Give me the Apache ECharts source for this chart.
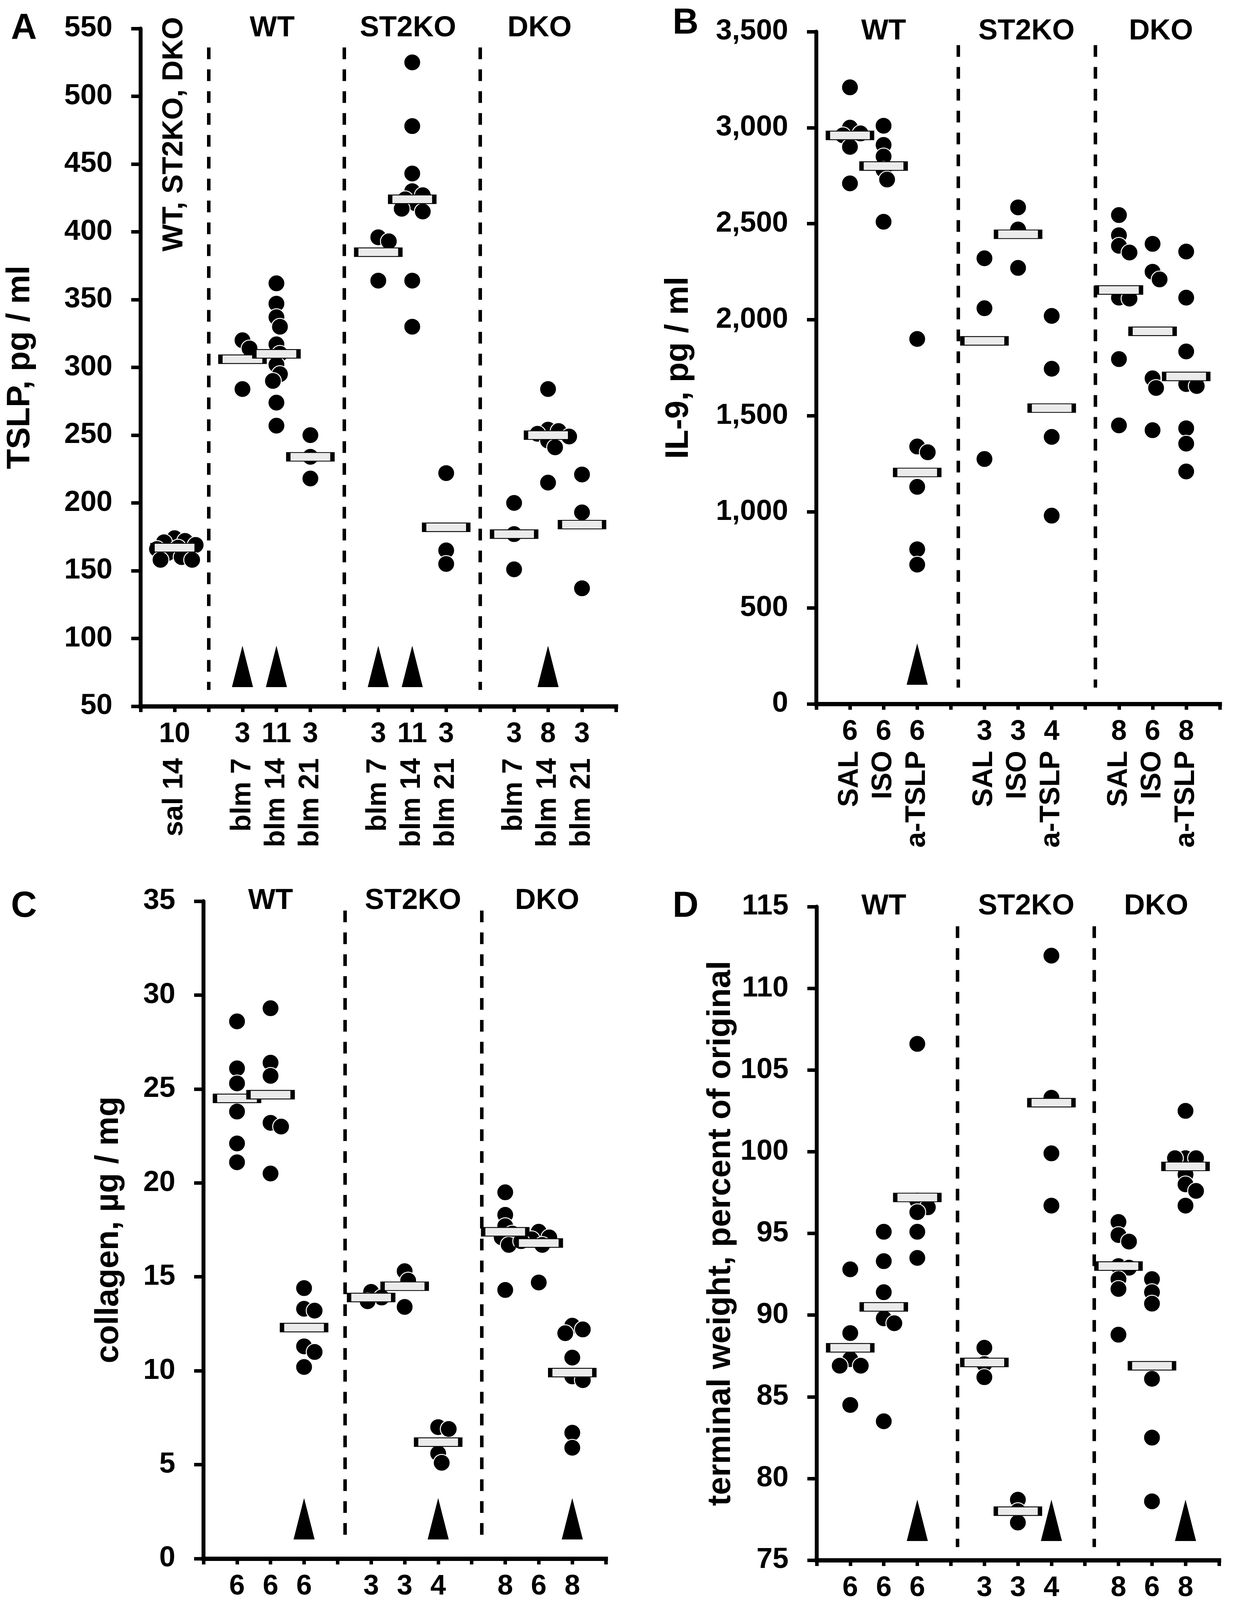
<!DOCTYPE html>
<html>
<head>
<meta charset="utf-8">
<script src="https://cdn.jsdelivr.net/npm/echarts@6/dist/echarts.min.js"></script>
<style>
  html, body { margin: 0; padding: 0; background: #fff; }
  #main { width: 3167px; height: 4393px; }
</style>
</head>
<body>
<div id="main"></div>
<script>
// ---- data ----
// A: TSLP
var namesA = ['sal 14', 'blm 7', 'blm 14', 'blm 21', 'blm 7', 'blm 14', 'blm 21', 'blm 7', 'blm 14', 'blm 21'];
var countsA = [10, 3, 11, 3, 3, 11, 3, 3, 8, 3];
var valuesA = [
  [174, 172, 171, 169, 167, 166, 163, 160, 158, 158],
  [320, 314, 284],
  [362, 347, 337, 330, 317, 310, 302, 295, 290, 274, 257],
  [250, 234, 218],
  [396, 393, 364],
  [525, 478, 443, 430, 427, 424, 421, 417, 415, 364, 330],
  [222, 165, 155],
  [200, 177, 151],
  [284, 254, 253, 251, 249, 246, 241, 215],
  [221, 193, 137]
];
var meansA = [167, 306, 310, 234, 385, 424, 182, 177, 250, 184];
var arrowsA = [1, 2, 4, 5, 8];

// shared group names for B, C, D
var namesBCD = ['SAL', 'ISO', 'a-TSLP', 'SAL', 'ISO', 'a-TSLP', 'SAL', 'ISO', 'a-TSLP'];
var countsBCD = [6, 6, 6, 3, 3, 4, 8, 6, 8];

// B: IL-9
var valuesB = [
  [3210, 3000, 2970, 2960, 2900, 2710],
  [3010, 2910, 2850, 2780, 2730, 2510],
  [1900, 1340, 1310, 1130, 805, 725],
  [2320, 2060, 1275],
  [2585, 2470, 2270],
  [2020, 1745, 1390, 980],
  [2545, 2440, 2385, 2350, 2115, 2110, 1795, 1450],
  [2395, 2250, 2210, 1695, 1645, 1425],
  [2355, 2115, 1835, 1665, 1655, 1435, 1355, 1210]
];
var meansB = [2960, 2800, 1205, 1890, 2445, 1540, 2155, 1940, 1705];
var arrowsB = [2];

// C: collagen
var valuesC = [
  [28.6, 26.1, 25.3, 23.8, 22.1, 21.1],
  [29.3, 26.4, 25.7, 23.2, 23.0, 20.5],
  [14.4, 13.3, 13.2, 11.3, 11.0, 10.2],
  [14.2, 13.9, 13.7],
  [15.3, 14.8, 13.4],
  [7.0, 6.9, 5.6, 5.1],
  [19.5, 18.3, 17.7, 17.3, 17.1, 16.9, 16.7, 14.3],
  [17.4, 17.1, 17.0, 16.9, 16.7, 14.7],
  [12.4, 12.2, 12.0, 10.7, 9.7, 9.5, 6.7, 5.9]
];
var meansC = [24.5, 24.7, 12.3, 13.9, 14.5, 6.2, 17.4, 16.8, 9.9];
var arrowsC = [2, 5, 8];

// D: terminal weight
var valuesD = [
  [92.8, 88.9, 87.3, 86.9, 86.9, 84.5],
  [95.1, 93.3, 91.4, 89.8, 89.5, 83.5],
  [106.6, 97.0, 96.6, 96.3, 95.1, 93.5],
  [88.0, 87.0, 86.2],
  [78.7, 78.0, 77.3],
  [112.0, 103.3, 99.9, 96.7],
  [95.7, 94.9, 94.5, 93.0, 92.9, 92.2, 91.6, 88.8],
  [92.2, 91.4, 90.7, 86.1, 82.5, 78.6],
  [102.5, 99.6, 99.6, 99.6, 98.6, 98.0, 97.6, 96.7]
];
var meansD = [88.0, 90.5, 97.2, 87.1, 78.0, 103.0, 93.0, 86.9, 99.1];
var arrowsD = [2, 5, 8];

var headers = ['WT', 'ST2KO', 'DKO'];

// ---- layout ----
var FONT = 'Liberation Sans, Arial, sans-serif';
var DOT = 43, STEP = 9, THR = 25;

var panels = [
  { letter: 'A', lx: 28, ly: 28,
    grid: { left: 360, top: 73, width: 1217, height: 1735 },
    xMax: 14, pos: [1, 3, 4, 5, 7, 8, 9, 11, 12, 13],
    names: namesA, counts: countsA, values: valuesA, means: meansA, arrows: arrowsA,
    yMin: 50, yMax: 550, yInt: 50, yName: 'TSLP, pg / ml', nameGap: 266,
    headPos: [3.875, 7.875, 11.75],
    dividers: [2, 6, 10], divTop: 536, divBot: 62, nameMargin: 133 },
  { letter: 'B', lx: 1722, ly: 15,
    grid: { left: 2090, top: 81, width: 1033, height: 1721 },
    xMax: 12, pos: [1, 2, 3, 5, 6, 7, 9, 10, 11],
    names: namesBCD, counts: countsBCD, values: valuesB, means: meansB, arrows: arrowsB,
    yMin: 0, yMax: 3500, yInt: 500, yName: 'IL-9, pg / ml', nameGap: 310,
    headPos: [2, 6.25, 10.25],
    dividers: [4.22, 8.3], divTop: 3430, divBot: 85, nameMargin: 120 },
  { letter: 'C', lx: 28, ly: 2276,
    grid: { left: 521, top: 2307, width: 1030, height: 1683 },
    xMax: 12, pos: [1, 2, 3, 5, 6, 7, 9, 10, 11],
    names: namesBCD, counts: countsBCD, values: valuesC, means: meansC, arrows: arrowsC,
    yMin: 0, yMax: 35, yInt: 5, yName: 'collagen, µg / mg', nameGap: 200,
    headPos: [2, 6.25, 10.25],
    dividers: [4.22, 8.3], divTop: 34.5, divBot: 0.8, nameMargin: 123 },
  { letter: 'D', lx: 1722, ly: 2276,
    grid: { left: 2091, top: 2321, width: 1030, height: 1673 },
    xMax: 12, pos: [1, 2, 3, 5, 6, 7, 9, 10, 11],
    names: namesBCD, counts: countsBCD, values: valuesD, means: meansD, arrows: arrowsD,
    yMin: 75, yMax: 115, yInt: 5, yName: 'terminal weight, percent of original', nameGap: 203,
    headPos: [2, 6.25, 10.125],
    dividers: [4.2, 8.27], divTop: 113.8, divBot: 75.8, nameMargin: 119 }
];

// simple beeswarm: nudge overlapping dots sideways (pixel space)
function dodge(vals, p) {
  var placed = [];
  var unitPx = p.grid.width / p.xMax;
  var ks = [0, 1, -1, 2, -2, 3, -3, 4, -4, 5, -5, 6, -6, 7, -7, 8, -8];
  return vals.map(function (v) {
    var py = (v - p.yMin) / (p.yMax - p.yMin) * p.grid.height;
    var ox = 0;
    for (var i = 0; i < ks.length; i++) {
      var cx = ks[i] * STEP;
      var ok = placed.every(function (q) {
        return (q.x - cx) * (q.x - cx) + (q.y - py) * (q.y - py) >= THR * THR;
      });
      if (ok) { ox = cx; break; }
    }
    placed.push({ x: ox, y: py });
    return ox / unitPx;
  });
}

function findPos(list, v) {
  for (var i = 0; i < list.length; i++) if (Math.abs(list[i] - v) < 0.01) return i;
  return -1;
}

var option = {
  backgroundColor: '#fff',
  animation: false,
  title: [], grid: [], xAxis: [], yAxis: [], series: []
};

var boldText = { fontFamily: FONT, fontWeight: 'bold', color: '#000' };

panels.forEach(function (p, i) {
  option.title.push({
    text: p.letter, left: p.lx, top: p.ly, padding: 0,
    textStyle: { fontFamily: FONT, fontWeight: 'bold', fontSize: 92, lineHeight: 92, color: '#000' }
  });
  option.grid.push(p.grid);

  // n under the axis
  option.xAxis.push({
    type: 'value', gridIndex: i, position: 'bottom', min: 0, max: p.xMax, interval: 1,
    splitLine: { show: false },
    axisLine: { show: true, onZero: false, lineStyle: { color: '#000', width: 11, cap: 'square' } },
    axisTick: { show: true, length: 15, lineStyle: { color: '#000', width: 9 } },
    axisLabel: Object.assign({
      fontSize: 72, margin: 36,
      formatter: function (v) { var k = findPos(p.pos, v); return k < 0 ? '' : String(p.counts[k]); }
    }, boldText)
  });
  // rotated group names
  option.xAxis.push({
    type: 'value', gridIndex: i, position: 'bottom', min: 0, max: p.xMax, interval: 1,
    splitLine: { show: false }, axisLine: { show: false }, axisTick: { show: false },
    axisLabel: Object.assign({
      fontSize: 72, margin: p.nameMargin, rotate: 90,
      formatter: function (v) { var k = findPos(p.pos, v); return k < 0 ? '' : p.names[k]; }
    }, boldText)
  });
  // strain headers at the top
  option.xAxis.push({
    type: 'value', gridIndex: i, position: 'top', min: 0, max: p.xMax, interval: 0.125,
    splitLine: { show: false }, axisLine: { show: false }, axisTick: { show: false },
    axisLabel: Object.assign({
      fontSize: 74, margin: 0, verticalAlign: 'middle',
      formatter: function (v) { var k = findPos(p.headPos, v); return k < 0 ? '' : headers[k]; }
    }, boldText)
  });

  option.yAxis.push({
    type: 'value', gridIndex: i, min: p.yMin, max: p.yMax, interval: p.yInt,
    splitLine: { show: false },
    axisLine: { show: true, onZero: false, lineStyle: { color: '#000', width: 10 } },
    axisTick: { show: true, length: 24, lineStyle: { color: '#000', width: 9 } },
    axisLabel: Object.assign({
      fontSize: 74, margin: 72,
      formatter: function (v) { return v.toLocaleString('en-US'); }
    }, boldText),
    name: p.yName, nameLocation: 'middle', nameGap: p.nameGap,
    nameTextStyle: Object.assign({ fontSize: 84 }, boldText)
  });

  var dots = [];
  p.values.forEach(function (vals, g) {
    var offs = dodge(vals, p);
    vals.forEach(function (v, j) { dots.push([p.pos[g] + offs[j], v]); });
  });

  var dotSeries = {
    type: 'scatter', xAxisIndex: 3 * i, yAxisIndex: i, z: 2, clip: false,
    symbolSize: DOT,
    itemStyle: { color: '#000', borderColor: '#fff', borderWidth: 2.5, opacity: 1 },
    data: dots,
    markLine: {
      silent: true, symbol: ['none', 'none'], label: { show: false },
      lineStyle: { color: '#000', width: 9, type: [30, 26] },
      data: p.dividers.map(function (d) {
        return [{ coord: [d, p.divTop] }, { coord: [d, p.divBot] }];
      })
    }
  };
  if (p.letter === 'A') {
    dotSeries.markPoint = {
      silent: true, symbol: 'rect', symbolSize: 1,
      itemStyle: { color: 'rgba(0,0,0,0)' },
      label: Object.assign({ show: true, position: 'inside', rotate: 90, fontSize: 74,
        formatter: 'WT, ST2KO, DKO' }, boldText),
      data: [{ coord: [1, 472] }]
    };
  }
  option.series.push(dotSeries);

  option.series.push({
    type: 'scatter', xAxisIndex: 3 * i, yAxisIndex: i, z: 3, clip: false,
    symbol: 'rect', symbolSize: [113, 22],
    itemStyle: { color: '#ebebeb', borderColor: '#000', borderWidth: 5, opacity: 1 },
    data: p.means.map(function (m, g) { return [p.pos[g], m]; })
  });

  option.series.push({
    type: 'scatter', xAxisIndex: 3 * i, yAxisIndex: i, z: 2, clip: false,
    symbol: 'triangle', symbolSize: [54, 106], symbolOffset: [0, -102],
    itemStyle: { color: '#000', opacity: 1 },
    data: p.arrows.map(function (g) { return [p.pos[g], p.yMin]; })
  });
});

var chart = echarts.init(document.getElementById('main'), null, { renderer: 'canvas' });
chart.setOption(option);
</script>
</body>
</html>
